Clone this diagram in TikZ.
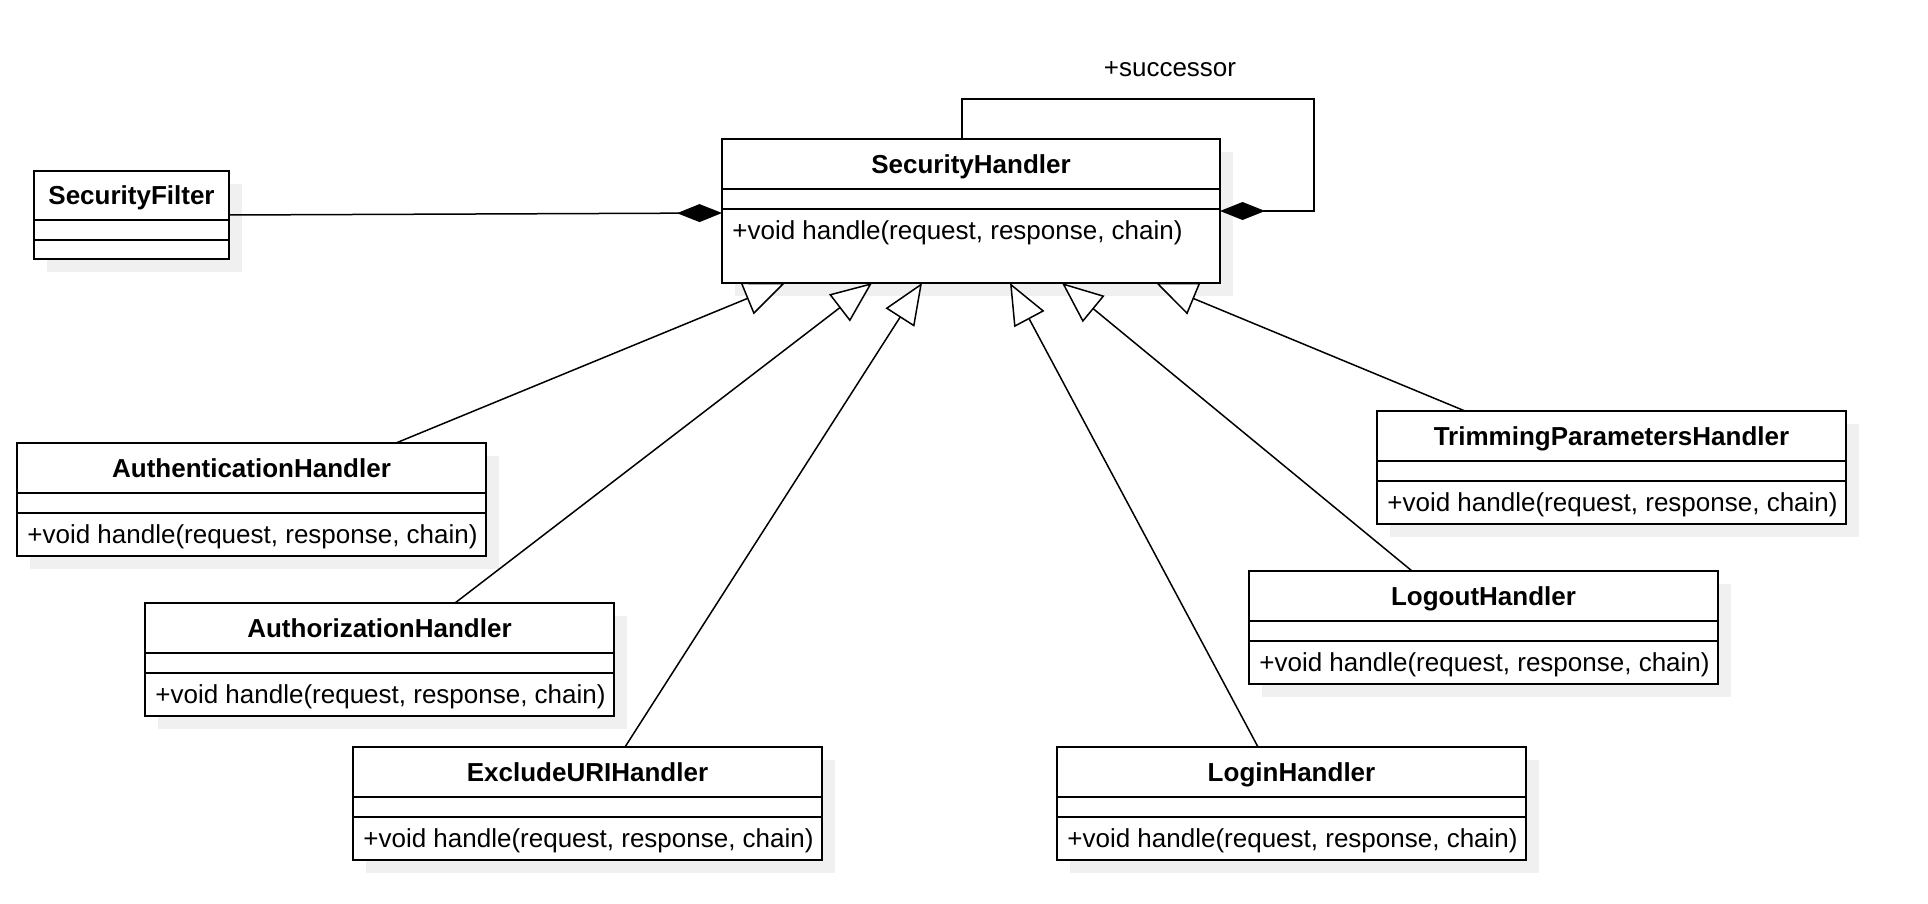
\documentclass[tikz,border=0pt]{standalone}
\usepackage{fontspec}
\setmainfont{Liberation Sans}
\usetikzlibrary{arrows.meta,calc,shadows}
\definecolor{shadowgray}{RGB}{240,240,240}
\tikzset{
  classbox/.style={draw=black, line width=1pt, fill=white, rectangle, inner sep=0pt, outer sep=0pt, anchor=north west,
    general shadow={fill=shadowgray, draw=none, shadow xshift=6.5pt, shadow yshift=-6.5pt}},
  sepline/.style={draw=black, line width=1pt},
  titletext/.style={font=\fontsize{13}{15}\selectfont\bfseries, anchor=base, inner sep=0pt},
  methodtext/.style={font=\fontsize{13}{15}\selectfont, anchor=base west, inner sep=0pt},
  rolelabel/.style={font=\fontsize{13}{15}\selectfont, anchor=base, inner sep=0pt},
  genline/.style={draw=black, line width=0.75pt, -{Triangle[length=20.5pt, width=17pt, fill=white]}},
  compline/.style={draw=black, line width=0.75pt, -{Diamond[length=22.5pt, width=9pt, fill=black]}},
}
\newcommand{\umlclass}[8]{%
  \node[classbox, minimum width=#4*0.5pt, minimum height=#5*0.5pt] (#1) at (#2,#3) {};
  \draw[sepline] ($(#1.north west)+(0,50)$) -- ($(#1.north east)+(0,50)$);
  \draw[sepline] ($(#1.north west)+(0,70)$) -- ($(#1.north east)+(0,70)$);
  \node[titletext] (#1-title) at ($(#1.north)+(0,34)$) {#6};
  \node[methodtext] (#1-method) at ($(#1.north west)+(10,#8)$) {#7};
}
\begin{document}
\begin{tikzpicture}[x=0.5pt,y=-0.5pt]
\useasboundingbox (0,0) rectangle (1928,904);

% SecurityFilter
\node[classbox, minimum width=97.5pt, minimum height=44pt] (sf) at (34,171) {};
\draw[sepline] ($(sf.north west)+(0,49)$) -- ($(sf.north east)+(0,49)$);
\draw[sepline] ($(sf.north west)+(0,69)$) -- ($(sf.north east)+(0,69)$);
\node[titletext] (sf-title) at ($(sf.north)+(0,34)$) {SecurityFilter};

\umlclass{sh}{722}{139}{498}{144}{SecurityHandler}{+void handle(request, response, chain)}{100.5}
\umlclass{auth}{17}{443}{469}{113}{AuthenticationHandler}{+void handle(request, response, chain)}{100}
\umlclass{authz}{145}{603}{469}{113}{AuthorizationHandler}{+void handle(request, response, chain)}{100}
\umlclass{excl}{353}{747}{469}{113}{ExcludeURIHandler}{+void handle(request, response, chain)}{100}
\umlclass{login}{1057}{747}{469}{113}{LoginHandler}{+void handle(request, response, chain)}{100}
\umlclass{logout}{1249}{571}{469}{113}{LogoutHandler}{+void handle(request, response, chain)}{100}
\umlclass{trim}{1377}{411}{469}{113}{TrimmingParametersHandler}{+void handle(request, response, chain)}{100}

% composition SecurityFilter -> SecurityHandler
\draw[compline] (sf.east) -- ($(sh.north west)+(0,74)$);

% self association successor
\coordinate (loopcorner) at (1314,99);
\draw[compline] ($(sh.north west)+(240,0)$) |- (loopcorner) |- ($(sh.north east)+(0,72)$);
\node[rolelabel] (succ) at (1170,77) {+successor};

% generalizations
\draw[genline] ($(auth.north west)+(379,0)$) -- ($(sh.south west)+(63,0)$);
\draw[genline] ($(authz.north west)+(310,0)$) -- ($(sh.south west)+(150,0)$);
\draw[genline] ($(excl.north west)+(272,0)$) -- ($(sh.south west)+(200,0)$);
\draw[genline] ($(login.north west)+(201,0)$) -- ($(sh.south west)+(288,0)$);
\draw[genline] ($(logout.north west)+(163,0)$) -- ($(sh.south west)+(340,0)$);
\draw[genline] ($(trim.north west)+(88,0)$) -- ($(sh.south west)+(434,0)$);
\end{tikzpicture}
\end{document}
